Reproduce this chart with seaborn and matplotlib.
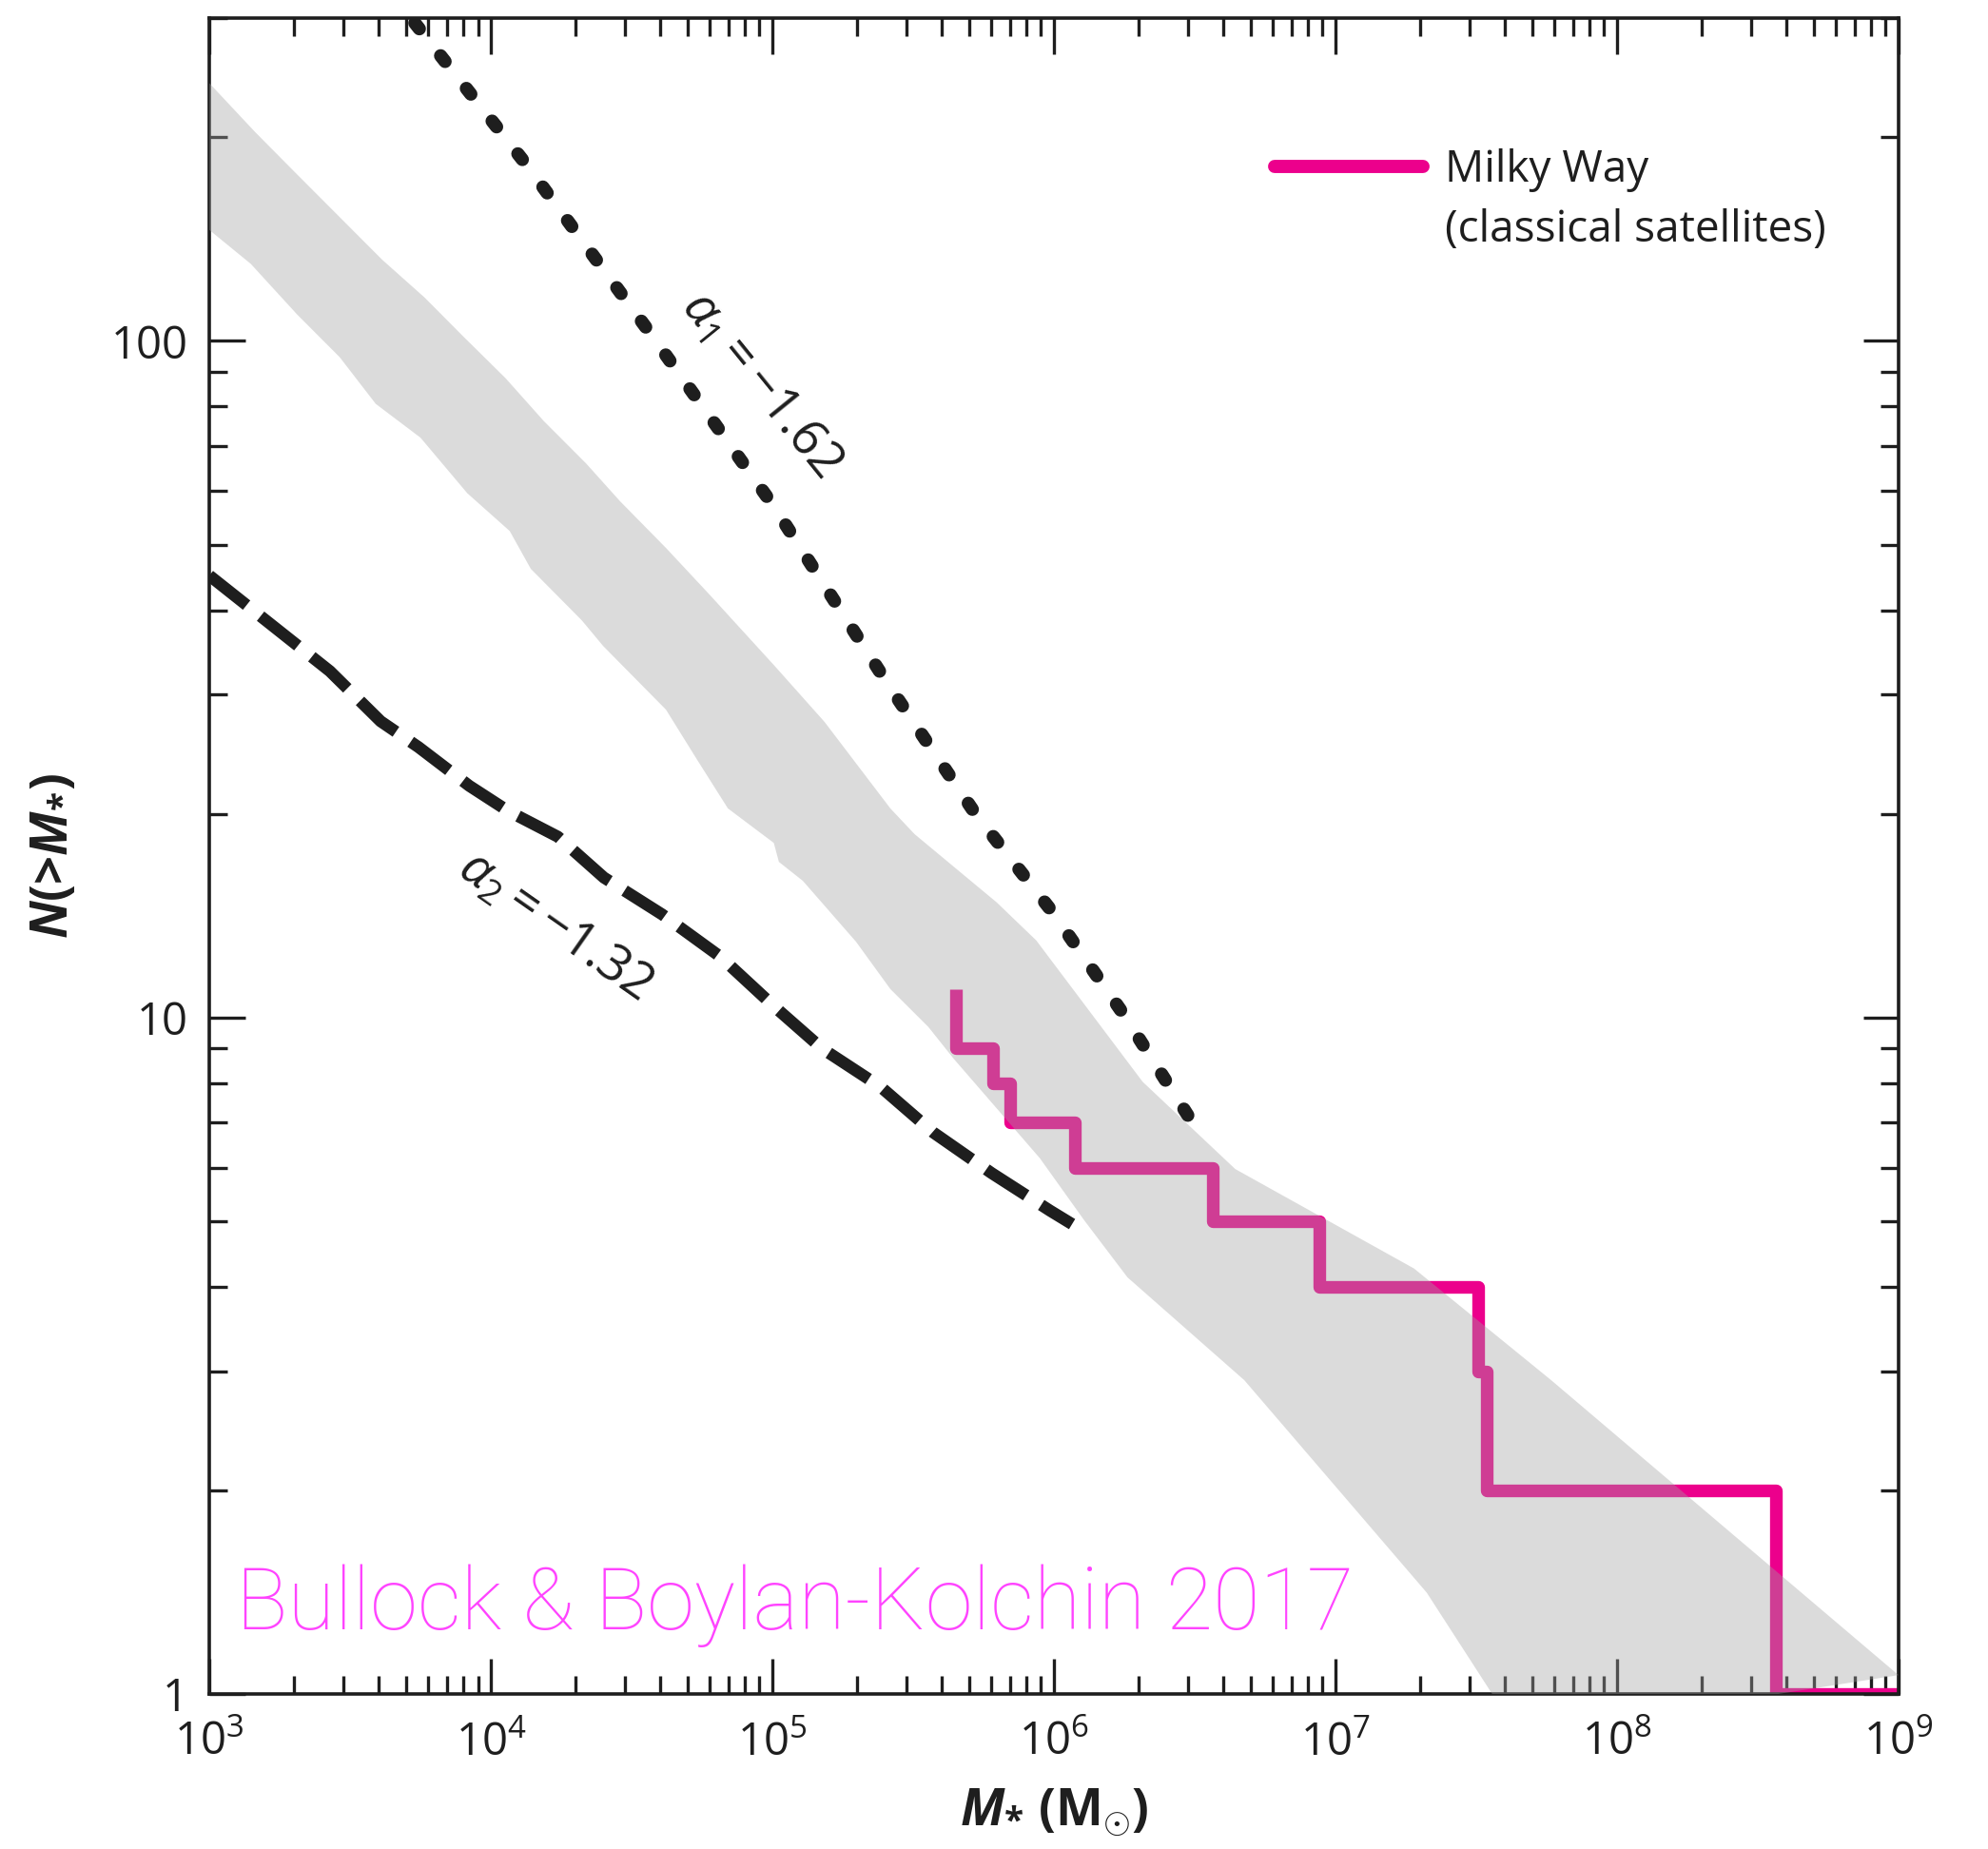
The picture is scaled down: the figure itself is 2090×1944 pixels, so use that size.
import numpy as np
import pandas as pd
import matplotlib
matplotlib.use("Agg")
import matplotlib.pyplot as plt
from matplotlib.lines import Line2D
from matplotlib.ticker import LogLocator, FuncFormatter, NullFormatter
import seaborn as sns

# ---- data -------------------------------------------------------------
# simulated satellite range (upper and lower envelope, log10 values)
band_upper_logm = [3.000, 3.162, 3.312, 3.463, 3.614, 3.765, 3.901, 4.052, 4.187,
                   4.338, 4.459, 4.622, 4.779, 5.005, 5.185, 5.419, 5.505, 5.797,
                   5.937, 6.315, 6.644, 7.279, 7.766, 9.000]
band_upper_logn = [2.381, 2.309, 2.246, 2.183, 2.120, 2.064, 2.007, 1.945, 1.882,
                   1.819, 1.763, 1.694, 1.624, 1.521, 1.437, 1.309, 1.271, 1.170,
                   1.114, 0.905, 0.776, 0.629, 0.464, 0.028]
band_lower_logm = [3.000, 3.147, 3.312, 3.463, 3.591, 3.750, 3.916, 4.067, 4.142,
                   4.323, 4.399, 4.622, 4.734, 4.842, 5.005, 5.023, 5.108, 5.297,
                   5.419, 5.554, 5.644, 5.950, 6.108, 6.261, 6.676, 7.324, 7.650]
band_lower_logn = [2.164, 2.114, 2.039, 1.976, 1.907, 1.857, 1.775, 1.719, 1.663,
                   1.587, 1.549, 1.455, 1.380, 1.309, 1.258, 1.230, 1.202, 1.112,
                   1.042, 0.986, 0.939, 0.792, 0.700, 0.616, 0.464, 0.150, -0.060]

# power law with alpha_1 = -1.62 (dotted)
alpha1_mass = [5.37e3, 1.34e4, 3.66e4, 1.01e5, 2.57e5, 5.26e5, 9.9e5, 1.77e6, 3.06e6]
alpha1_count = [295, 182, 103, 57, 31.1, 20.0, 14.3, 10.1, 7.06]

# power law with alpha_2 = -1.32 (dashed)
alpha2_mass = [1e3, 2.68e3, 4.06e3, 5.53e3, 8.38e3, 1.15e4, 1.73e4, 2.52e4, 4.06e4,
               6.53e4, 1.01e5, 1.50e5, 2.42e5, 3.73e5, 6.0e5, 9.7e5, 1.16e6]
alpha2_count = [45.0, 32.5, 27.4, 25.1, 22.0, 20.2, 18.5, 16.1, 14.2,
                12.3, 10.4, 9.0, 7.9, 6.76, 5.89, 5.18, 4.95]

# Milky Way classical satellites: cumulative counts
mw_mass = [4.50e5, 4.50e5, 6.08e5, 7.0e5, 1.19e6, 3.66e6, 8.73e6, 3.21e7, 3.44e7, 3.66e8, 1e9]
mw_count = [11, 9, 8, 7, 6, 5, 4, 3, 2, 1, 1]

x_ticks = [1e3, 1e4, 1e5, 1e6, 1e7, 1e8, 1e9]
y_ticks = [1, 10, 100]

# ---- style ------------------------------------------------------------
sns.set_theme(style="ticks")
plt.rcParams["font.family"] = ["Open Sans", "DejaVu Sans"]
plt.rcParams["mathtext.fontset"] = "custom"
plt.rcParams["mathtext.rm"] = "Open Sans"
plt.rcParams["mathtext.it"] = "Open Sans:italic"
plt.rcParams["mathtext.bf"] = "Open Sans:bold"
plt.rcParams["mathtext.bfit"] = "Open Sans:italic:bold"

INK = "#1e1e1e"
PINK = "#ec008c"

fig = plt.figure(figsize=(10.45, 9.72), dpi=200)
ax = fig.add_axes([0.1053, 0.0838, 0.8497, 0.9064])

# Milky Way step function
mw = pd.DataFrame({"mass": mw_mass, "count": mw_count})
sns.lineplot(data=mw, x="mass", y="count", ax=ax, estimator=None, sort=False,
             drawstyle="steps-post", color=PINK, linewidth=4.8,
             solid_joinstyle="round", solid_capstyle="butt", zorder=2)

# shaded simulation range, laid over the step line
poly_m = 10 ** np.concatenate([band_upper_logm, band_lower_logm[::-1]])
poly_n = 10 ** np.concatenate([band_upper_logn, band_lower_logn[::-1]])
ax.fill(poly_m, poly_n, color="#a2a2a2", alpha=0.38, lw=0, zorder=3)

# power-law curves
a1 = pd.DataFrame({"mass": alpha1_mass, "count": alpha1_count})
sns.lineplot(data=a1, x="mass", y="count", ax=ax, estimator=None, sort=False,
             color=INK, linewidth=5.0, linestyle=(0, (0.55, 2.6)),
             dash_capstyle="round", zorder=4)
a2 = pd.DataFrame({"mass": alpha2_mass, "count": alpha2_count})
sns.lineplot(data=a2, x="mass", y="count", ax=ax, estimator=None, sort=False,
             color=INK, linewidth=4.5, linestyle=(0, (4.0, 1.5)),
             dash_capstyle="butt", zorder=4)

# ---- axes -------------------------------------------------------------
ax.set_xscale("log")
ax.set_yscale("log")
ax.set_xlim(1e3, 1e9)
ax.set_ylim(1, 300)
ax.set_xticks(x_ticks)
ax.set_yticks(y_ticks)
ax.yaxis.set_major_formatter(FuncFormatter(lambda v, p: f"{v:g}"))
ax.xaxis.set_minor_locator(LogLocator(base=10, subs=np.arange(2, 10), numticks=20))
ax.yaxis.set_minor_locator(LogLocator(base=10, subs=np.arange(2, 10), numticks=20))
ax.xaxis.set_minor_formatter(NullFormatter())
ax.yaxis.set_minor_formatter(NullFormatter())

for s in ax.spines.values():
    s.set_linewidth(1.3)
    s.set_color(INK)
ax.tick_params(which="both", direction="in", top=True, right=True, color=INK,
               width=1.2, labelcolor=INK, labelsize=17)
ax.tick_params(which="major", length=13.5, pad=8)
ax.tick_params(which="minor", length=7)
ax.tick_params(axis="x", which="major", pad=10)

ax.set_xlabel(r"$\mathbfit{M}_{\mathbf{*}}$ (M$_{\odot}$)", fontsize=19,
              fontweight="bold", color=INK, labelpad=8)
ax.set_ylabel(r"$\mathbfit{N}$(>$\mathbfit{M}_{\mathbf{*}}$)", fontsize=19,
              fontweight="bold", color=INK, labelpad=12)

# ---- annotations ------------------------------------------------------
ax.text(9.1e4, 86, r"$\alpha_1 = -1.62$", rotation=-51, fontsize=19, color=INK,
        ha="center", va="center", rotation_mode="anchor", zorder=5)
ax.text(1.68e4, 13.6, r"$\alpha_2 = -1.32$", rotation=-35, fontsize=19, color=INK,
        ha="center", va="center", rotation_mode="anchor", zorder=5)

handles = [Line2D([], [], color=PINK, lw=5.0),
           Line2D([], [], color="none", lw=0)]
ax.legend(handles, ["Milky Way", "(classical satellites)"], loc="upper left",
          bbox_to_anchor=(0.6306, 0.922), frameon=False, fontsize=16.5,
          handlelength=3.4, handletextpad=0.5, borderpad=0, borderaxespad=0,
          labelspacing=0.35, labelcolor=INK)

ax.text(0.016, 0.0386, "Bullock & Boylan-Kolchin 2017", transform=ax.transAxes,
        fontsize=32.5, color="#ff44ff", family=["Roboto", "DejaVu Sans"],
        fontweight="light", ha="left", va="baseline", zorder=6)

fig.savefig("out.png", dpi=200)
